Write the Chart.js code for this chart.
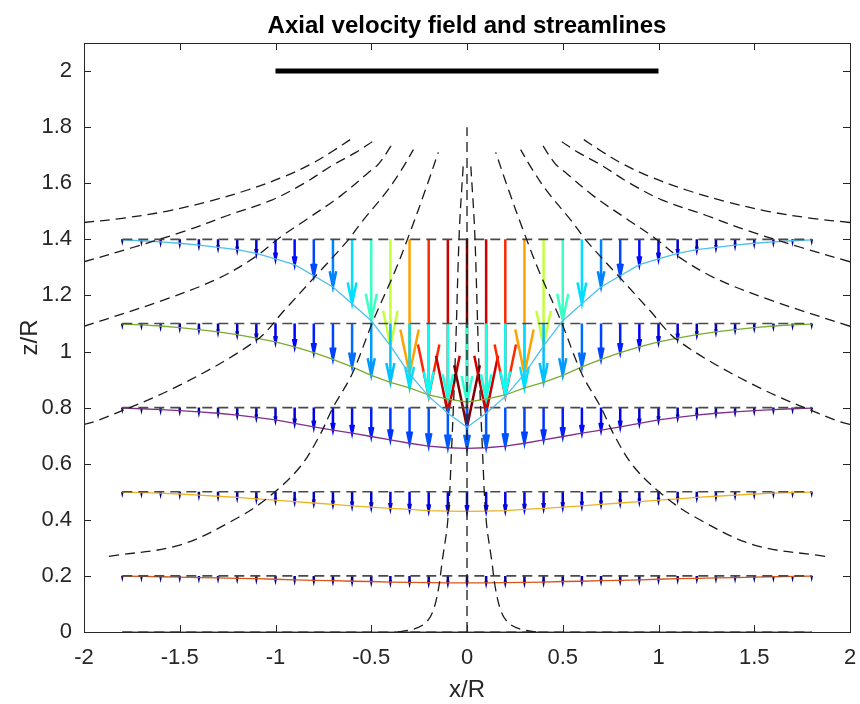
<!DOCTYPE html>
<html>
<head>
<meta charset="utf-8">
<script src="https://cdn.jsdelivr.net/npm/chart.js@4.4.0/dist/chart.umd.min.js"></script>
<style>
  body { margin: 0; background: #fff; }
</style>
</head>
<body>
<canvas id="chart" width="860" height="704"></canvas>
<script>
// axis ticks
const xTicks = [-2, -1.5, -1, -0.5, 0, 0.5, 1, 1.5, 2];
const zTicks = [0, 0.2, 0.4, 0.6, 0.8, 1, 1.2, 1.4, 1.6, 1.8, 2];

// profile stations x/R (right half, the picture is symmetric about x = 0)
const xHalf = [0, 0.1, 0.2, 0.3, 0.4, 0.5, 0.6, 0.7, 0.8, 0.9, 1, 1.1, 1.2, 1.3, 1.4, 1.5, 1.6, 1.7, 1.8];

// axial velocity (downward, in z/R units) at each level
const levels = [1.4, 1.1, 0.8, 0.5, 0.2, 0];
const w14 = [0.67, 0.62, 0.56, 0.48, 0.38, 0.29, 0.23, 0.17, 0.13, 0.09, 0.07, 0.05, 0.037, 0.029, 0.021, 0.014, 0.009, 0.005, 0.002];
const w11 = [0.28, 0.27, 0.255, 0.23, 0.21, 0.185, 0.155, 0.128, 0.104, 0.083, 0.066, 0.052, 0.04, 0.03, 0.022, 0.015, 0.009, 0.005, 0.002];
const w08 = [0.145, 0.143, 0.137, 0.127, 0.115, 0.103, 0.091, 0.08, 0.069, 0.056, 0.044, 0.035, 0.027, 0.02, 0.015, 0.011, 0.007, 0.004, 0.002];
const w05 = [0.07, 0.069, 0.067, 0.063, 0.059, 0.055, 0.05, 0.045, 0.04, 0.035, 0.03, 0.025, 0.02, 0.016, 0.012, 0.008, 0.005, 0.003, 0.001];
const w02 = [0.025, 0.025, 0.024, 0.023, 0.022, 0.02, 0.019, 0.017, 0.016, 0.014, 0.012, 0.01, 0.009, 0.007, 0.006, 0.004, 0.003, 0.002, 0.001];
const w00 = [0, 0, 0, 0, 0, 0, 0, 0, 0, 0, 0, 0, 0, 0, 0, 0, 0, 0, 0];
const levelColors = ['#4DBEEE', '#77AC30', '#7E2F8E', '#EDB120', '#D95319', '#4A9FDA'];

// streamlines, left half [x/R, z/R]; right half is the mirror image
const stream1 = [[-2, 1.46], [-1.8, 1.475], [-1.57, 1.5], [-1.35, 1.535], [-1.15, 1.575], [-0.95, 1.625], [-0.81, 1.67], [-0.7, 1.715], [-0.6, 1.76]];
const stream2 = [[-2, 1.32], [-1.75, 1.37], [-1.47, 1.43], [-1.25, 1.485], [-1.02, 1.54], [-0.85, 1.6], [-0.7, 1.665], [-0.58, 1.71], [-0.49, 1.75]];
const stream3 = [[-2, 1.09], [-1.6, 1.18], [-1.3, 1.26], [-1.1, 1.34], [-0.98, 1.405], [-0.84, 1.47], [-0.66, 1.555], [-0.52, 1.635], [-0.46, 1.67], [-0.39, 1.74]];
const stream4 = [[-2, 0.74], [-1.92, 0.756], [-1.5, 0.88], [-1.1, 1.04], [-0.95, 1.15], [-0.79, 1.27], [-0.63, 1.39], [-0.54, 1.47], [-0.42, 1.57], [-0.34, 1.65], [-0.28, 1.72]];
const stream5 = [[-1.87, 0.27], [-1.5, 0.31], [-1.19, 0.41], [-1.02, 0.49], [-0.87, 0.59], [-0.77, 0.7], [-0.7, 0.8], [-0.6, 0.92], [-0.49, 1.11], [-0.38, 1.28], [-0.3, 1.42], [-0.21, 1.59], [-0.15, 1.71]];
const stream6 = [[-0.36, 0], [-0.28, 0.01], [-0.22, 0.03], [-0.18, 0.07], [-0.15, 0.15], [-0.13, 0.25], [-0.1, 0.4], [-0.08, 0.66], [-0.06, 1], [-0.04, 1.43], [-0.02, 1.66]];
const axisLine = [[0, 0], [0, 1.8]];
const rotor = [[-1, 2], [1, 2]];

// full profiles from the half ones
const xs = xHalf.slice(1).reverse().map(v => -v).concat(xHalf);
const full = w => w.slice(1).reverse().concat(w);
const profiles = [w14, w11, w08, w05, w02, w00].map(full);
const wMax = Math.max(...w14);

// MATLAB jet colormap
function jet(t) {
    const c = k => Math.round(255 * Math.min(1, Math.max(0, 1.5 - Math.abs(4 * t - k))));
    return `rgb(${c(3)},${c(2)},${c(1)})`;
}

const pts = arr => arr.map(([a, b]) => ({ x: a, y: b }));
const mirror = arr => arr.map(([a, b]) => ({ x: -a, y: b }));

const datasets = [];
[stream1, stream2, stream3, stream4, stream5, stream6].forEach(s => {
    [pts(s), mirror(s)].forEach(d => datasets.push({
        data: d, borderColor: '#1a1a1a', borderWidth: 1.3, borderDash: [10, 6],
        pointRadius: 0, tension: 0.35, fill: false
    }));
});
datasets.push({ data: pts(axisLine), borderColor: '#1a1a1a', borderWidth: 1.3, borderDash: [10, 6], pointRadius: 0 });
levels.forEach((z0, i) => {
    datasets.push({
        data: xs.map(v => ({ x: v, y: z0 })), borderColor: '#4a4a4a', borderWidth: 1.6,
        borderDash: [10, 6], pointRadius: 0
    });
    datasets.push({
        data: xs.map((v, j) => ({ x: v, y: z0 - profiles[i][j] })), borderColor: levelColors[i],
        borderWidth: 1.3, pointRadius: 0, tension: 0
    });
});
datasets.push({ data: pts(rotor), borderColor: '#000', borderWidth: 5, pointRadius: 0 });

// velocity arrows (quiver style)
const quiver = {
    id: 'quiver',
    beforeDatasetsDraw(chart) {
        const { ctx, scales: { x, y } } = chart;
        ctx.save();
        ctx.lineWidth = 2.5;
        levels.forEach((z0, i) => {
            xs.forEach((xv, j) => {
                const w = profiles[i][j];
                if (w <= 0) return;
                const px = x.getPixelForValue(xv);
                const p0 = y.getPixelForValue(z0);
                const p1 = y.getPixelForValue(z0 - w);
                const pb = y.getPixelForValue(z0 - w + 0.33 * w);
                const hw = x.getPixelForValue(xv + 0.1 * w) - px;
                ctx.strokeStyle = jet(w / wMax);
                ctx.beginPath();
                ctx.moveTo(px, p0);
                ctx.lineTo(px, p1);
                ctx.moveTo(px - hw, pb);
                ctx.lineTo(px, p1);
                ctx.lineTo(px + hw, pb);
                ctx.stroke();
            });
        });
        ctx.restore();
    }
};

// box, inward ticks and titles
const frame = {
    id: 'frame',
    afterDraw(chart) {
        const { ctx, chartArea: a, scales: { x, y } } = chart;
        ctx.save();
        ctx.strokeStyle = '#262626';
        ctx.lineWidth = 1;
        ctx.strokeRect(a.left + 0.5, a.top + 0.5, a.right - a.left, a.bottom - a.top);
        ctx.beginPath();
        xTicks.forEach(v => {
            const p = Math.round(x.getPixelForValue(v)) + 0.5;
            ctx.moveTo(p, a.bottom); ctx.lineTo(p, a.bottom - 7);
            ctx.moveTo(p, a.top); ctx.lineTo(p, a.top + 7);
        });
        zTicks.forEach(v => {
            const p = Math.round(y.getPixelForValue(v)) + 0.5;
            ctx.moveTo(a.left, p); ctx.lineTo(a.left + 7, p);
            ctx.moveTo(a.right, p); ctx.lineTo(a.right - 7, p);
        });
        ctx.stroke();

        const cx = (a.left + a.right) / 2;
        ctx.fillStyle = '#000';
        ctx.textAlign = 'center';
        ctx.textBaseline = 'alphabetic';
        ctx.font = 'bold 24px "Liberation Sans", Arial, sans-serif';
        ctx.fillText('Axial velocity field and streamlines', cx, 33);
        ctx.fillStyle = '#262626';
        ctx.font = '24px "Liberation Sans", Arial, sans-serif';
        ctx.fillText('x/R', cx, 697);
        ctx.translate(37, (a.top + a.bottom) / 2);
        ctx.rotate(-Math.PI / 2);
        ctx.fillText('z/R', 0, 0);
        ctx.restore();
    }
};

const tickFont = { family: '"Liberation Sans", Arial, sans-serif', size: 22 };

new Chart(document.getElementById('chart').getContext('2d'), {
    type: 'line',
    data: { datasets },
    options: {
        responsive: false,
        animation: false,
        parsing: false,
        layout: { padding: { left: 0, right: 10, top: 43, bottom: 0 } },
        plugins: { legend: { display: false }, tooltip: { enabled: false } },
        scales: {
            x: {
                type: 'linear', min: -2, max: 2,
                afterBuildTicks: s => { s.ticks = xTicks.map(v => ({ value: v })); },
                afterFit: s => { s.height = 72; s.paddingLeft = 0; s.paddingRight = 0; },
                grid: { display: false, drawTicks: false }, border: { display: false },
                ticks: { font: tickFont, color: '#262626', padding: 13, maxRotation: 0, autoSkip: false,
                         callback: v => String(v) }
            },
            y: {
                type: 'linear', min: 0, max: 2.1,
                afterBuildTicks: s => { s.ticks = zTicks.map(v => ({ value: v })); },
                afterFit: s => { s.width = 84; s.paddingTop = 0; s.paddingBottom = 0; },
                grid: { display: false, drawTicks: false }, border: { display: false },
                ticks: { font: tickFont, color: '#262626', padding: 12, autoSkip: false,
                         callback: v => String(v) }
            }
        }
    },
    plugins: [quiver, frame]
});
</script>
</body>
</html>
